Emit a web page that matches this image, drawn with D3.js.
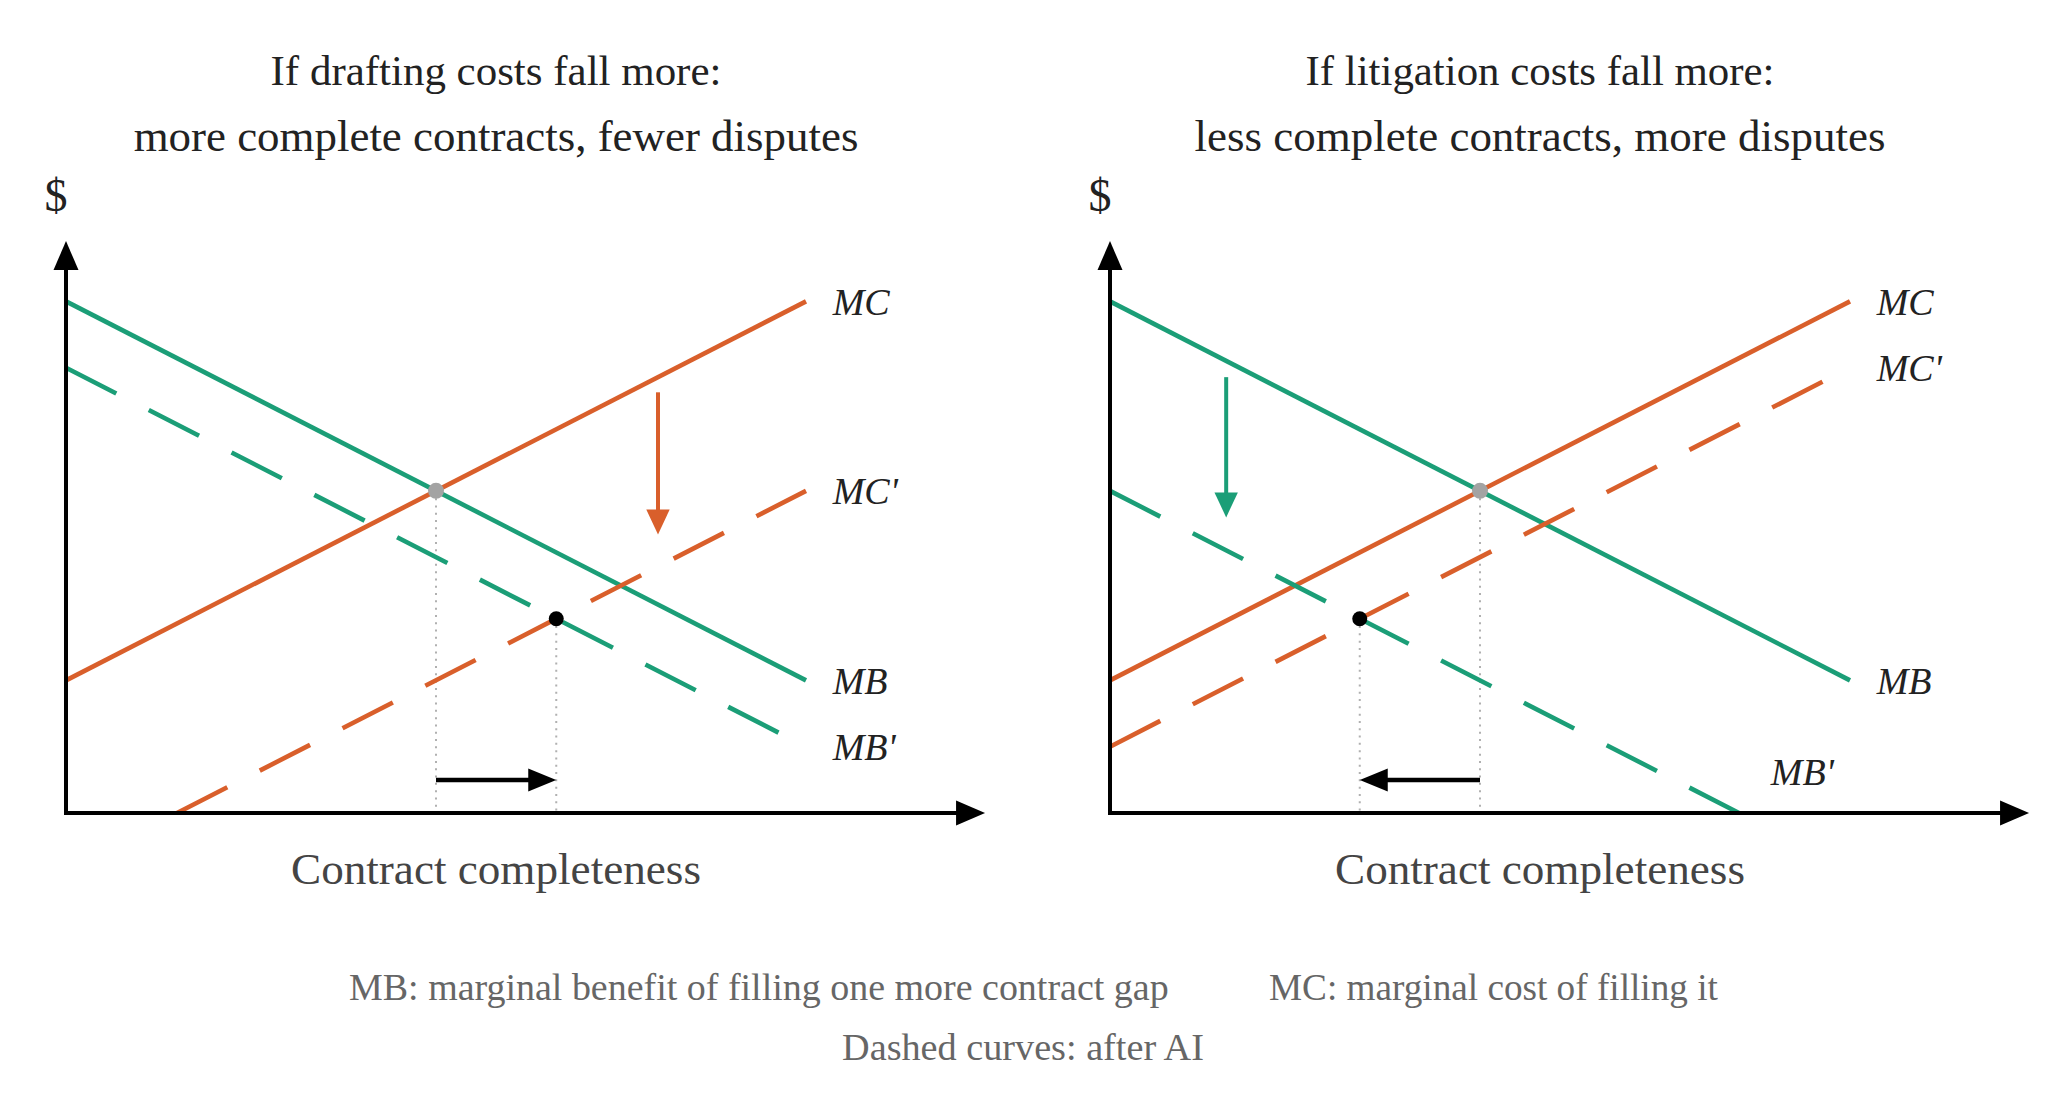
<!DOCTYPE html>
<html>
<head>
<meta charset="utf-8">
<script src="https://cdn.jsdelivr.net/npm/d3@7"></script>
<style>
  html, body { margin: 0; padding: 0; background: #ffffff; }
  svg { display: block; }
  text { font-family: "Liberation Serif", "Times New Roman", serif; }
</style>
</head>
<body>
<svg id="chart" width="2048" height="1099"></svg>
<script>
// ---------------- data ----------------
const panelTitles1 = ["If drafting costs fall more:", "If litigation costs fall more:"];
const panelTitles2 = ["more complete contracts, fewer disputes", "less complete contracts, more disputes"];
const xAxisLabel = "Contract completeness";
const yAxisLabel = "$";
const footnotes = ["MB: marginal benefit of filling one more contract gap", "MC: marginal cost of filling it", "Dashed curves: after AI"];

// curve endpoints [x, y] in model units (x: completeness 0..10, y: $)
const mbSolid   = [[[0, 13.5], [10, 3.5]],  [[0, 13.5], [10, 3.5]]];
const mcSolid   = [[[0, 3.5],  [10, 13.5]], [[0, 3.5],  [10, 13.5]]];
const mbDashed  = [[[0, 11.75],[10, 1.75]], [[0, 8.5],  [8.5, 0]]];
const mcDashed  = [[[1.5, 0],  [10, 8.5]],  [[0, 1.75], [10, 11.75]]];

// equilibria
const oldEq = [[5, 8.5], [5, 8.5]];
const newEq = [[6.625, 5.125], [3.375, 5.125]];

// shift arrows [x, yStart, yEnd]
const shiftArrows = [[8, 11.1, 7.35], [1.57, 11.5, 7.8]];
const shiftColors = ["mc", "mb"];
// movement arrow height
const moveArrowY = [0.87, 0.87];

// curve labels [text, x, y]
const curveLabels = [
  [["MC", 10.36, 13.5], ["MC'", 10.36, 8.5], ["MB", 10.36, 3.5], ["MB'", 10.36, 1.75]],
  [["MC", 10.36, 13.5], ["MC'", 10.36, 11.75], ["MB", 10.36, 3.5], ["MB'", 8.93, 1.1]]
];

// axis extents in model units
const xAxisMax = 12.42;
const yAxisMax = 15.09;

// ---------------- drawing ----------------
const GREEN = "#1b9e77";
const ORANGE = "#d95f2b";
const svg = d3.select("#chart");

const originsX = [66, 1110];
const originY = 813;
const pxPerX = 74;
const pxPerY = 37.9;

function fitText(sel, target) {
  const node = sel.node();
  const base = parseFloat(sel.attr("font-size"));
  const len = node.getComputedTextLength();
  if (len > 0) sel.attr("font-size", base * target / len);
}

[0, 1].forEach(p => {
  const ox = originsX[p];
  const x = d3.scaleLinear().domain([0, 10]).range([ox, ox + 10 * pxPerX]);
  const y = d3.scaleLinear().domain([0, 10]).range([originY, originY - 10 * pxPerY]);
  const g = svg.append("g");
  const line = d3.line().x(d => x(d[0])).y(d => y(d[1]));
  const center = ox + 430;

  // titles
  const t1 = g.append("text").attr("x", center).attr("y", 85).attr("text-anchor", "middle")
    .attr("font-size", 38).attr("fill", "#222").text(panelTitles1[p]);
  fitText(t1, [451, 469][p]);
  const t2 = g.append("text").attr("x", center).attr("y", 151).attr("text-anchor", "middle")
    .attr("font-size", 38).attr("fill", "#222").text(panelTitles2[p]);
  fitText(t2, [725, 691][p]);

  // $ label
  g.append("text").attr("x", ox - 10).attr("y", 211).attr("text-anchor", "middle")
    .attr("font-size", 46).attr("fill", "#222").text(yAxisLabel);

  // x-axis label
  const xl = g.append("text").attr("x", center).attr("y", 884).attr("text-anchor", "middle")
    .attr("font-size", 38).attr("fill", "#444").text(xAxisLabel);
  fitText(xl, 410);

  // dotted guides
  [oldEq[p], newEq[p]].forEach(pt => {
    g.append("line").attr("x1", x(pt[0])).attr("x2", x(pt[0]))
      .attr("y1", y(pt[1])).attr("y2", y(0))
      .attr("stroke", "#b0b0b0").attr("stroke-width", 2).attr("stroke-dasharray", "2,5.3");
  });

  // curves
  const curves = [
    [mbSolid[p], GREEN, null],
    [mcSolid[p], ORANGE, null],
    [mbDashed[p], GREEN, "56.5,36.5"],
    [mcDashed[p], ORANGE, "56.5,36.5"]
  ];
  curves.forEach(([pts, col, dash]) => {
    const path = g.append("path").attr("d", line(pts)).attr("fill", "none")
      .attr("stroke", col).attr("stroke-width", 4.6);
    if (dash) path.attr("stroke-dasharray", dash);
  });

  // axes
  const axisTopY = y(yAxisMax), axisRightX = x(xAxisMax);
  g.append("path").attr("d", `M${x(0)},${y(0)}L${x(0)},${axisTopY + 27}M${x(0) - 2},${y(0)}L${axisRightX - 27},${y(0)}`)
    .attr("stroke", "#000").attr("stroke-width", 4).attr("fill", "none");
  g.append("path").attr("d", `M${x(0)},${axisTopY}L${x(0) - 12.5},${axisTopY + 29}L${x(0) + 12.5},${axisTopY + 29}Z`).attr("fill", "#000");
  g.append("path").attr("d", `M${axisRightX},${y(0)}L${axisRightX - 29},${y(0) - 12.5}L${axisRightX - 29},${y(0) + 12.5}Z`).attr("fill", "#000");

  // shift arrow (vertical)
  const sa = shiftArrows[p];
  const sc = shiftColors[p] === "mc" ? ORANGE : GREEN;
  const sx = x(sa[0]), sy0 = y(sa[1]), sy1 = y(sa[2]);
  g.append("line").attr("x1", sx).attr("x2", sx).attr("y1", sy0).attr("y2", sy1 - 24)
    .attr("stroke", sc).attr("stroke-width", 4);
  g.append("path").attr("d", `M${sx},${sy1}L${sx - 11.7},${sy1 - 25}L${sx + 11.7},${sy1 - 25}Z`).attr("fill", sc);

  // movement arrow (horizontal)
  const hx0 = x(oldEq[p][0]), hx1 = x(newEq[p][0]), hy = y(moveArrowY[p]);
  const dir = Math.sign(hx1 - hx0);
  g.append("line").attr("x1", hx0).attr("x2", hx1 - dir * 26).attr("y1", hy).attr("y2", hy)
    .attr("stroke", "#000").attr("stroke-width", 4.5);
  g.append("path").attr("d", `M${hx1},${hy}L${hx1 - dir * 28},${hy - 11.5}L${hx1 - dir * 28},${hy + 11.5}Z`).attr("fill", "#000");

  // equilibrium dots
  g.append("circle").attr("cx", x(oldEq[p][0])).attr("cy", y(oldEq[p][1])).attr("r", 8).attr("fill", "#a3a3a3");
  g.append("circle").attr("cx", x(newEq[p][0])).attr("cy", y(newEq[p][1])).attr("r", 7.5).attr("fill", "#000");

  // curve labels
  curveLabels[p].forEach(([txt, lx, ly]) => {
    g.append("text").attr("x", x(lx)).attr("y", y(ly)).attr("dy", "0.35em")
      .attr("font-size", 38).attr("font-style", "italic").attr("fill", "#222").text(txt);
  });
});

// footnotes
const f1 = svg.append("text").attr("x", 349).attr("y", 1000).attr("font-size", 32).attr("fill", "#666").text(footnotes[0]);
fitText(f1, 820);
const f2 = svg.append("text").attr("x", 1269).attr("y", 1000).attr("font-size", 32).attr("fill", "#666").text(footnotes[1]);
fitText(f2, 449);
const f3 = svg.append("text").attr("x", 1023).attr("y", 1060).attr("text-anchor", "middle").attr("font-size", 32).attr("fill", "#666").text(footnotes[2]);
fitText(f3, 362);
</script>
</body>
</html>
